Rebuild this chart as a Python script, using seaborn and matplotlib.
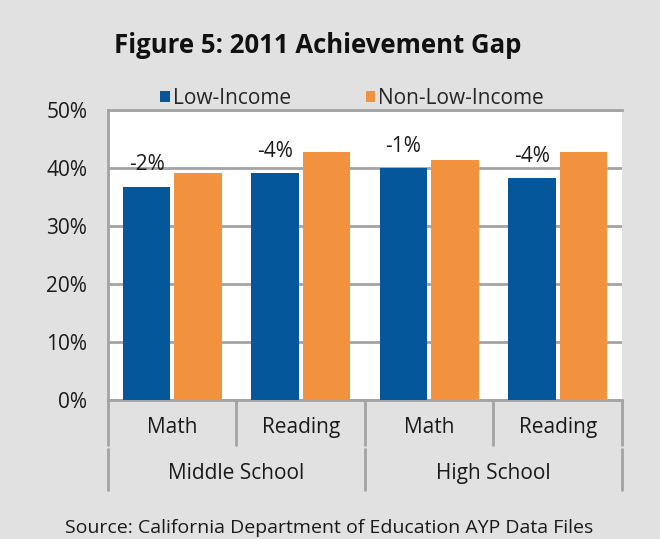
#!/usr/bin/env python3
# -*- coding: utf-8 -*-
"""Figure 5: 2011 achievement gap, low-income vs non-low-income."""

import pandas as pd
import seaborn as sns
import matplotlib.pyplot as plt

# %% Data

lst_levels = ['Middle School', 'Middle School', 'High School', 'High School']
lst_subjects = ['Math', 'Reading', 'Math', 'Reading']
lst_low = [36.8, 39.2, 40.0, 38.2]
lst_non = [39.2, 42.8, 41.4, 42.8]
lst_gap_labels = ['-2%', '-4%', '-1%', '-4%']
lst_groups = ['Low-Income', 'Non-Low-Income']

# %% Styling

col_bg = '#e1e1e1'
col_line = '#a3a3a3'
col_txt = '#1a1a1a'
lst_colors = ['#03579a', '#f2923f']

sns.set_theme(style='white')
plt.rcParams['font.family'] = ['Open Sans', 'DejaVu Sans']

# build long data frame
lst_keys = [lvl + ' ' + sub for lvl, sub in zip(lst_levels, lst_subjects)]
df = pd.DataFrame({
    'key': lst_keys * 2,
    'group': [lst_groups[0]] * 4 + [lst_groups[1]] * 4,
    'value': lst_low + lst_non})

fig = plt.figure(figsize=(6.6, 5.39), dpi=100, facecolor=col_bg)
ax = fig.add_axes([0.1636, 0.2579, 0.7788, 0.538])
ax.set_facecolor('white')

sns.barplot(data=df, x='key', y='value', hue='group', order=lst_keys,
            hue_order=lst_groups, palette=lst_colors, width=0.8, gap=0.08,
            saturation=1, edgecolor='none', ax=ax, zorder=3)

ax.set_ylim(0, 50)
ax.set_xlim(-0.5, 3.5)
ax.set_yticks(range(0, 51, 10))
ax.set_yticklabels(['{}%'.format(v) for v in range(0, 51, 10)], fontsize=15)
ax.tick_params(axis='y', length=0, pad=15, colors=col_txt)
ax.set_xticks(range(4))
ax.set_xticklabels(lst_subjects, fontsize=15)
ax.tick_params(axis='x', length=0, pad=12, colors=col_txt)
ax.set_xlabel('')
ax.set_ylabel('')

# grid between bars
ax.yaxis.grid(True, color=col_line, linewidth=2)
ax.set_axisbelow(True)
for side in ['left', 'top', 'bottom']:
    ax.spines[side].set_color(col_line)
    ax.spines[side].set_linewidth(2)
ax.spines['right'].set_visible(False)

# gap labels above the low-income bars
for ind, bar in enumerate(ax.patches[:4]):
    ax.annotate(lst_gap_labels[ind],
                (bar.get_x() + bar.get_width() / 2, bar.get_height()),
                xytext=(0, 8), textcoords='offset points', ha='center',
                va='bottom', fontsize=15, color=col_txt)

# category separators below the axis
trans = ax.get_xaxis_transform()
for xpos in [0.5, 2.5]:
    ax.plot([xpos, xpos], [0, -0.155], transform=trans, color=col_line,
            linewidth=2, clip_on=False)
for xpos in [-0.5, 1.5, 3.5]:
    ax.plot([xpos, xpos], [0, -0.155], transform=trans, color=col_line,
            linewidth=2, clip_on=False)
    ax.plot([xpos, xpos], [-0.17, -0.31], transform=trans, color=col_line,
            linewidth=2, clip_on=False)
ax.text(0.5, -0.252, 'Middle School', transform=trans, ha='center',
        va='center', fontsize=15, color=col_txt)
ax.text(2.5, -0.252, 'High School', transform=trans, ha='center',
        va='center', fontsize=15, color=col_txt)

# legend
leg = ax.legend(loc='lower center', bbox_to_anchor=(0.475, 0.975), ncol=2,
                frameon=False, fontsize=15, handlelength=0.45,
                handleheight=0.45, handletextpad=0.15, columnspacing=3.6,
                borderaxespad=0)

fig.text(0.482, 0.915, 'Figure 5: 2011 Achievement Gap', ha='center',
         va='center', fontsize=18.5, fontweight='bold', color='#111111')
fig.text(0.498, 0.02, 'Source: California Department of Education AYP Data Files',
         ha='center', va='center', fontsize=14, color=col_txt)

fig.savefig('out.png', dpi=100, facecolor=col_bg)
